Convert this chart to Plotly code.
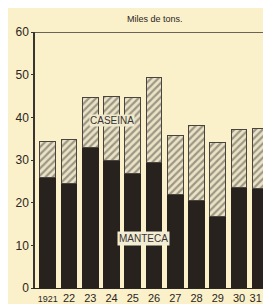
import plotly.graph_objects as go

years = ["<span style='font-size:9px'>1921</span>", "22", "23", "24", "25", "26", "27", "28", "29", "30", "31\u00a0\u00a0\u00a0"]
manteca = [25.8, 24.6, 33.0, 30.0, 26.9, 29.3, 21.8, 20.6, 16.8, 23.6, 23.4]
total = [34.4, 34.7, 44.7, 44.9, 44.7, 49.4, 35.8, 38.2, 34.0, 37.2, 37.5]
caseina = [round(t - m, 1) for t, m in zip(total, manteca)]
y_ticks = [0, 10, 20, 30, 40, 50, 60]

bg = "#FAF0C9"
dark = "#27221E"
xs = list(range(len(years)))

fig = go.Figure()
fig.add_trace(go.Bar(
    x=xs, y=manteca, name="MANTECA",
    marker=dict(color=dark, line=dict(color=dark, width=1)),
))
fig.add_trace(go.Bar(
    x=xs, y=caseina, name="CASEINA",
    marker=dict(color=bg, line=dict(color="#4a4440", width=1),
                pattern=dict(shape="/", fgcolor="#4f4943", bgcolor="#EAE3C6",
                             size=5, solidity=0.45)),
))

fig.add_annotation(x=3.0, y=39.3, text="CASEINA", showarrow=False,
                   font=dict(family="Liberation Sans", size=10, color="#3a3430"),
                   bgcolor="#EEE8CC", borderpad=0)
fig.add_annotation(x=4.5, y=11.5, text="MANTECA", showarrow=False,
                   font=dict(family="Liberation Sans", size=10, color="#3a3430"),
                   bgcolor="#F2ECD4", borderpad=1)
fig.add_annotation(xref="paper", yref="paper", x=0.52, y=1.05, yanchor="middle",
                   text="Miles de tons.", showarrow=False,
                   font=dict(size=9, color="#2a2622"))
fig.add_shape(type="line", xref="paper", yref="y", x0=0, x1=1, y0=60, y1=60,
              line=dict(color="#3a3430", width=1.5))

fig.update_layout(
    width=263, height=296,
    margin=dict(l=27, r=0, t=24, b=16),
    paper_bgcolor=bg, plot_bgcolor=bg,
    barmode="stack", bargap=0.26,
    showlegend=False,
    font=dict(family="Liberation Sans", size=12, color="#2a2622"),
)
fig.update_xaxes(
    range=[-0.6, 10.27], tickmode="array", tickvals=xs, ticktext=years,
    tickangle=0, showgrid=False, showline=True, linecolor="#2a2622",
    ticks="", tickfont=dict(size=11), zeroline=False,
    ticklabeloverflow="allow",
)
fig.update_yaxes(
    range=[0, 60], tickvals=y_ticks, showgrid=False, showline=True,
    linecolor="#3a3430", linewidth=1.5, ticks="outside", ticklen=2,
    tickcolor="#3a3430", zeroline=False, tickfont=dict(size=12),
)

fig.write_html("out.html")
